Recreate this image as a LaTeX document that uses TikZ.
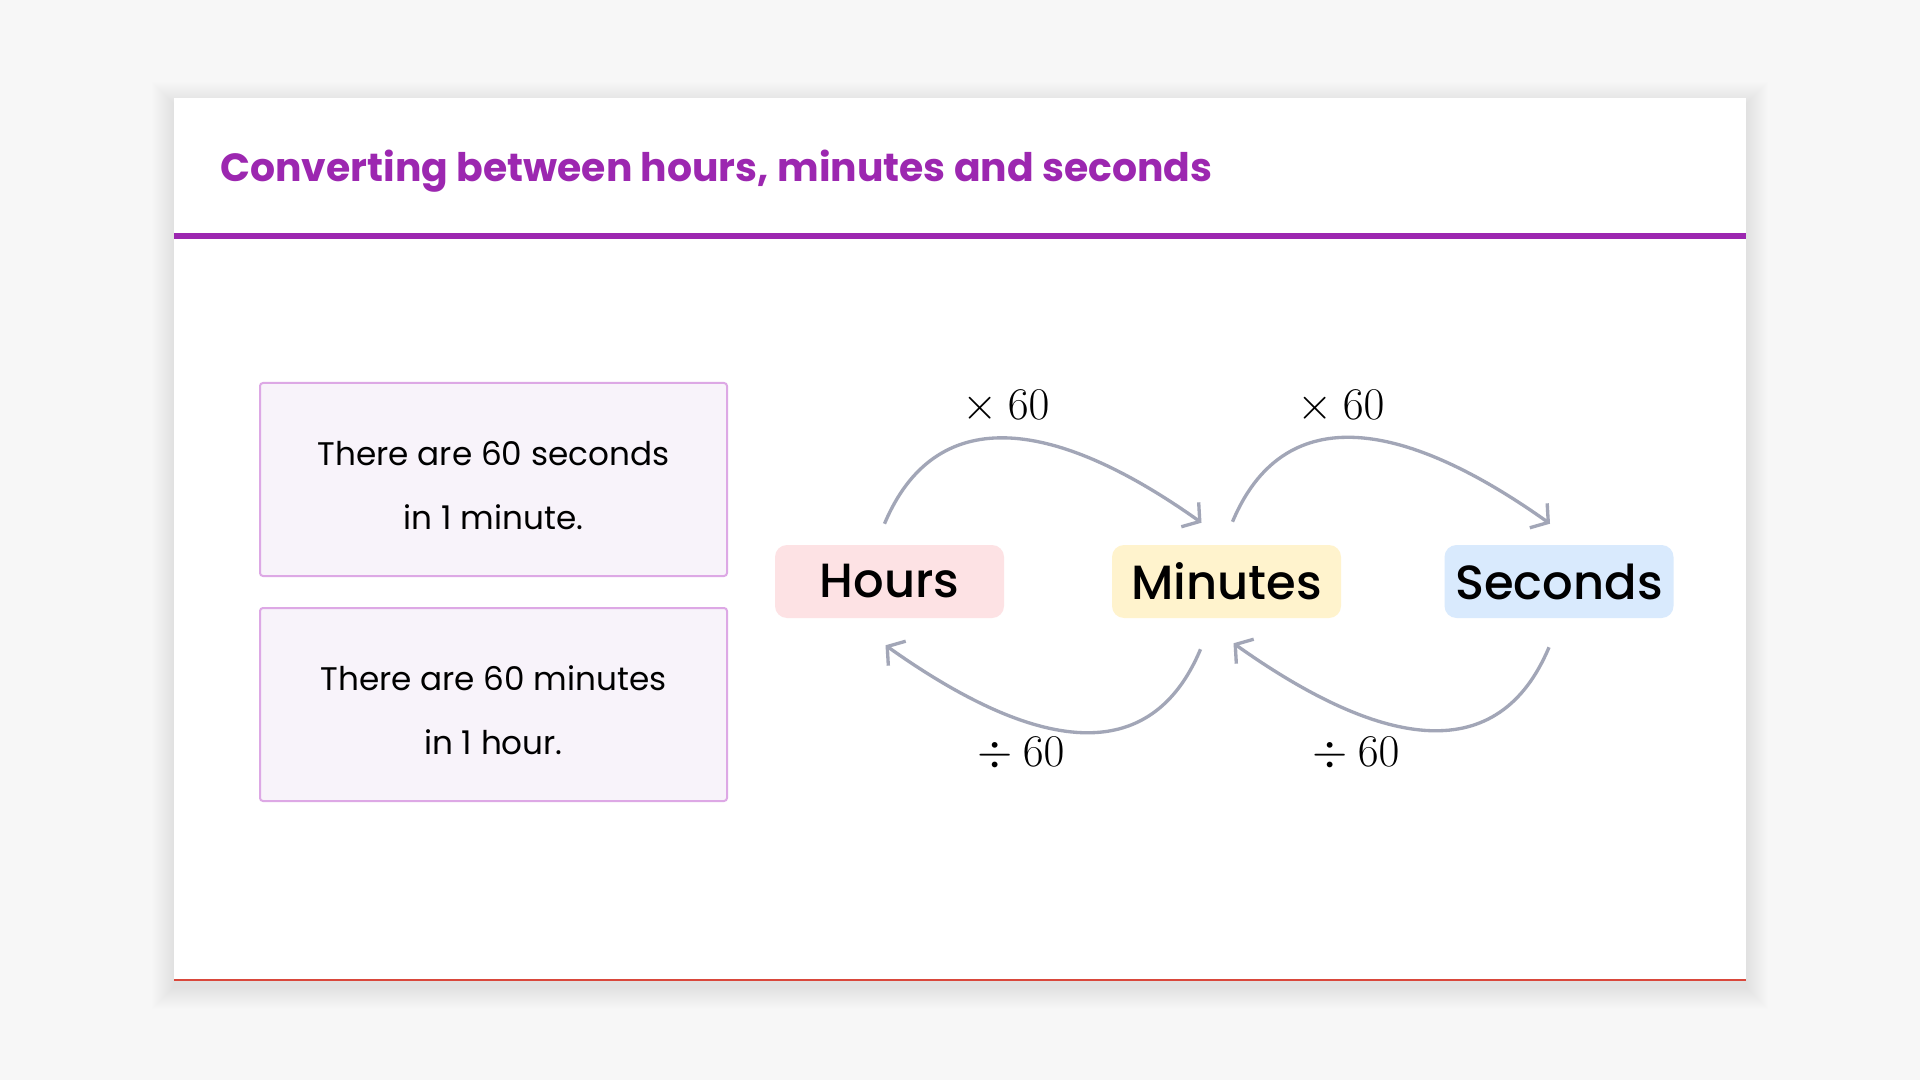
\RequirePackage{fix-cm}
\documentclass[tikz,border=0pt]{standalone}
\usepackage{fontspec}
\usetikzlibrary{arrows.meta}
\newfontfamily\popbold{Poppins}[UprightFont=* Bold]
\newfontfamily\popmed{Poppins}[UprightFont=* Medium]
\newfontfamily\popreg{Poppins}
\newdimen\pxu \pxu=0.75pt
\definecolor{bg}{HTML}{F7F7F7}
\definecolor{purp}{HTML}{9C27B0}
\definecolor{boxline}{HTML}{DDA8E5}
\definecolor{boxfill}{HTML}{F8F3FA}
\definecolor{hourc}{HTML}{FDE2E4}
\definecolor{minc}{HTML}{FFF3CD}
\definecolor{secc}{HTML}{D9EAFD}
\definecolor{arrc}{HTML}{A2A6B7}
\definecolor{redline}{HTML}{D9483B}
\tikzset{
  factbox/.style={draw=boxline, line width=2\pxu, fill=boxfill, rounded corners=3\pxu,
    minimum width=467\pxu, minimum height=193\pxu, inner sep=0pt, align=center,
    font=\popreg\fontsize{24.5}{48}\selectfont},
  unitbox/.style={rounded corners=12\pxu, minimum width=229\pxu, minimum height=73\pxu,
    inner sep=0pt, font=\popmed\fontsize{36}{40}\selectfont},
  conv/.style={draw=arrc, line width=2.5pt, -{Straight Barb[length=9pt, width=22.5pt, line width=2.5pt]}},
  oplabel/.style={font=\fontsize{34}{38}\selectfont, inner sep=0pt}
}
\begin{document}
\begin{tikzpicture}[x=\pxu, y=-\pxu]
\fill[bg] (0,0) rectangle (1920,1080);
\useasboundingbox (0,0) rectangle (1920,1080);
% shadow
\foreach \i in {22,21,...,1} {
  \fill[black, opacity=0.0022] (174-\i,98-\i+6) rectangle (1746+\i,981+\i+6);
}
\fill[white] (174,98) rectangle (1746,981);
\draw[redline, line width=2\pxu] (174,980) -- (1746,980);
% header
\node[anchor=base west, inner sep=0pt, text=purp, font=\popbold\fontsize{29.5}{32}\selectfont] (title) at (220,182) {Converting between hours, minutes and seconds};
\draw[purp, line width=6\pxu] (174,236) -- (1746,236);
% fact boxes
\node[factbox] (fact1) at (493.5,479.5) {\rule{0pt}{27pt}There are 60 seconds\\in 1 minute.};
\node[factbox] (fact2) at (493.5,704.5) {\rule{0pt}{27pt}There are 60 minutes\\in 1 hour.};
% unit nodes
\node[unitbox, fill=hourc] (hours) at (889.5,581.5) {Hours};
\node[unitbox, fill=minc] (minutes) at (1226.5,581.5) {Minutes};
\node[unitbox, fill=secc] (seconds) at (1559,581.5) {Seconds};
% arrows
\draw[conv] ([shift={(-5,-21)}]hours.north) .. controls +(50,-119) and +(-152,-108) .. ([shift={(-25,-22)}]minutes.north);
\draw[conv] ([shift={(6,-23)}]minutes.north) .. controls +(50,-119) and +(-152,-108) .. ([shift={(-9,-21)}]seconds.north);
\draw[conv] ([shift={(-26,31)}]minutes.south) .. controls +(-50,119) and +(152,108) .. ([shift={(-4,27)}]hours.south);
\draw[conv] ([shift={(-10,29)}]seconds.south) .. controls +(-50,119) and +(152,108) .. ([shift={(7,25)}]minutes.south);
% labels
\node[oplabel] (m1) at (1006,407) {$\times\:60$};
\node[oplabel] (m2) at (1341,407) {$\times\:60$};
\node[oplabel] (d1) at (1021,754) {$\div\:60$};
\node[oplabel] (d2) at (1356,754) {$\div\:60$};
\end{tikzpicture}
\end{document}
